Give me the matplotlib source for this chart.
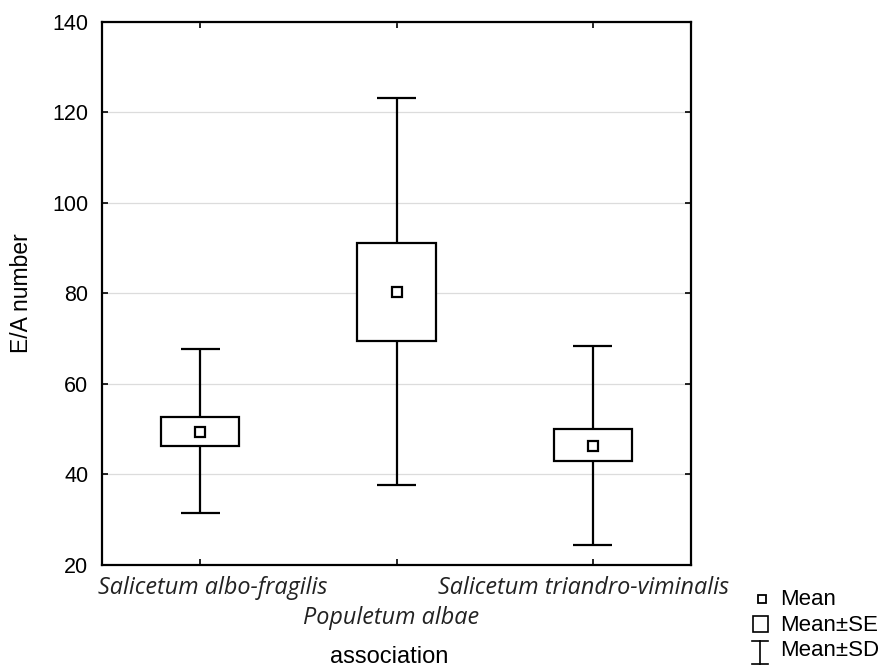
import matplotlib.pyplot as plt
from matplotlib.lines import Line2D
from matplotlib.patches import Rectangle
from matplotlib.transforms import ScaledTranslation

plt.rcParams["font.family"] = ["Liberation Sans", "DejaVu Sans"]

# values
groups = ["Salicetum albo-fragilis", "Populetum albae", "Salicetum triandro-viminalis"]
means = [49.4, 80.2, 46.3]
se_low = [46.3, 69.5, 42.9]
se_high = [52.6, 91.1, 50.0]
sd_low = [31.4, 37.6, 24.5]
sd_high = [67.7, 123.1, 68.4]

positions = [1, 2, 3]
box_w = 0.40
cap_w = 0.20

fig = plt.figure(figsize=(8.85, 6.69), dpi=100)
ax = fig.add_axes([0.1153, 0.1555, 0.6655, 0.812])

# grid
ax.set_axisbelow(True)
ax.yaxis.grid(True, color="#dcdcdc", linewidth=0.9)

# whiskers (SD) and caps
ax.vlines(positions, sd_low, se_low, color="black", linewidth=1.6, zorder=2)
ax.vlines(positions, se_high, sd_high, color="black", linewidth=1.6, zorder=2)
for p, lo, hi in zip(positions, sd_low, sd_high):
    ax.hlines([lo, hi], p - cap_w / 2, p + cap_w / 2, color="black", linewidth=1.6, zorder=2)

# SE boxes
ax.bar(positions, [h - l for h, l in zip(se_high, se_low)], bottom=se_low, width=box_w,
       facecolor="white", edgecolor="black", linewidth=1.6, zorder=3)

# means
ax.plot(positions, means, linestyle="none", marker="s", markersize=6.5,
        markerfacecolor="white", markeredgecolor="black", markeredgewidth=1.6, zorder=4)

ax.set_xlim(0.5, 3.5)
ax.set_ylim(20, 140)
ax.set_yticks(range(20, 141, 20))
ax.set_xticks(positions)
ax.set_xticklabels(groups, fontfamily="Open Sans", fontstyle="italic", fontsize=16.8,
                   color="#222222")
ax.tick_params(axis="both", direction="in", length=4, width=1.2, top=True, right=True)
ax.tick_params(axis="y", labelsize=15.5, pad=10)
ax.tick_params(axis="x", pad=8)
for s in ax.spines.values():
    s.set_linewidth(1.6)

# category labels are a little off-centre in the reference
labels = ax.get_xticklabels()
labels[1].set_y(-0.055)
for lab, dx in zip(labels, [13, -5, -9]):
    lab.set_transform(lab.get_transform() + ScaledTranslation(dx / 100, 0, fig.dpi_scale_trans))

ax.set_ylabel("E/A number", fontsize=16.5)
ax.yaxis.set_label_coords((21 - 102) / 589, 0.5)
ax.yaxis.label.set_va("center")
fig.text(389 / 885, 1 - 663 / 669, "association", ha="center", va="baseline", fontsize=17)

# legend drawn by hand in figure pixels
def fx(x):
    return x / 885

def fy(y):
    return 1 - y / 669

fig.add_artist(Line2D([fx(761.5)], [fy(598.5)], marker="s", markersize=5.5, markerfacecolor="white",
                      markeredgecolor="black", markeredgewidth=1.3, transform=fig.transFigure))
fig.add_artist(Rectangle((fx(753), fy(632)), fx(15), 16 / 669, facecolor="white",
                         edgecolor="black", linewidth=1.2, transform=fig.transFigure))
fig.add_artist(Line2D([fx(760), fx(760)], [fy(641), fy(664)], color="black", linewidth=1.2,
                      transform=fig.transFigure))
for yy in (641, 664):
    fig.add_artist(Line2D([fx(752), fx(768)], [fy(yy), fy(yy)], color="black", linewidth=1.2,
                          transform=fig.transFigure))
for txt, yy in [("Mean", 605), ("Mean±SE", 631), ("Mean±SD", 656)]:
    fig.text(fx(780), fy(yy), txt, ha="left", va="baseline", fontsize=16)

fig.savefig("out.png", dpi=100)
